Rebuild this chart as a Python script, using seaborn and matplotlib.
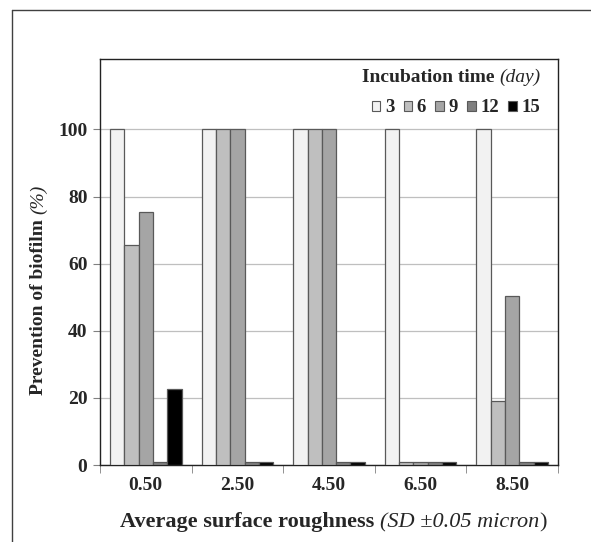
import pandas as pd
import matplotlib
matplotlib.use('Agg')
import matplotlib.pyplot as plt
import seaborn as sns
from matplotlib.patches import Patch
from matplotlib.lines import Line2D
from matplotlib.ticker import FixedLocator

# data
roughness = ['0.50', '2.50', '4.50', '6.50', '8.50']
days = ['3', '6', '9', '12', '15']
prev_3 = [100, 100, 100, 100, 100]
prev_6 = [65.5, 100, 100, 1, 19]
prev_9 = [75.3, 100, 100, 1, 50.5]
prev_12 = [1, 1, 1, 1, 1]
prev_15 = [22.7, 1, 1, 1, 1]
colors = ['#f2f2f2', '#bfbfbf', '#a5a5a5', '#7f7f7f', '#000000']

rows = []
for d, vals in zip(days, [prev_3, prev_6, prev_9, prev_12, prev_15]):
    for r, v in zip(roughness, vals):
        rows.append({'roughness': r, 'day': d, 'prevention': v})
df = pd.DataFrame(rows)

sns.set_style('white')
plt.rcParams['font.family'] = ['Liberation Serif', 'DejaVu Serif']

W, H = 591, 542
fig = plt.figure(figsize=(W / 100, H / 100), dpi=100)
ax = fig.add_axes([100 / W, 1 - 465 / H, 458 / W, 406 / H])

sns.barplot(data=df, x='roughness', y='prevention', hue='day', hue_order=days,
            order=roughness, palette=colors, width=0.78, edgecolor='#595959',
            linewidth=0.9, ax=ax, legend=False, zorder=3)

ax.set_ylim(0, 121)
ax.set_xlim(-0.5, 4.5)
ax.set_yticks([0, 20, 40, 60, 80, 100])
ax.yaxis.grid(True, color='#bfbfbf', linewidth=0.9, zorder=0)
ax.set_axisbelow(True)
for s in ax.spines.values():
    s.set_color('#222222')
    s.set_linewidth(1.0)

ax.xaxis.set_minor_locator(FixedLocator([-0.5, 0.5, 1.5, 2.5, 3.5, 4.5]))
ax.tick_params(axis='x', which='major', length=0, pad=9)
ax.tick_params(axis='x', which='minor', length=6, direction='out', color='#808080', bottom=True)
ax.tick_params(axis='y', length=5, direction='out', color='#808080', left=True, pad=4)
for lab in ax.get_xticklabels() + ax.get_yticklabels():
    lab.set_fontweight('bold')
    lab.set_fontsize(14)
ax.set_xlabel('')
ax.set_ylabel('')

fig.canvas.draw()
rend = fig.canvas.get_renderer()


def rich(x, y, parts, size, center=True):
    # draw text pieces one after another (pixel coords)
    objs = []
    total = 0
    for s, w, st in parts:
        t = fig.text(0, 0, s, fontsize=size, fontweight=w, fontstyle=st,
                     ha='left', va='baseline', transform=None)
        bb = t.get_window_extent(rend)
        objs.append((t, total))
        total += bb.width
    start = x - total / 2 if center else x - total
    for t, off in objs:
        t.set_position((start + off, H - y))
    return objs


# x label
rich(333, 527, [('Average surface roughness ', 'bold', 'normal'),
                ('(SD \u00b10.05 micron', 'normal', 'italic'),
                (')', 'normal', 'normal')], 16)

# y label (vertical, written bottom to top)
yparts = [('Prevention of biofilm ', 'bold', 'normal'), ('(%)', 'normal', 'italic')]
objs = []
total = 0
for s, w, st in yparts:
    t = fig.text(0, 0, s, fontsize=14, fontweight=w, fontstyle=st, rotation=90,
                 rotation_mode='anchor', ha='left', va='baseline', transform=None)
    bb = t.get_window_extent(rend)
    objs.append((t, total))
    total += bb.height
ystart = 290 + total / 2
for t, off in objs:
    t.set_position((43, H - ystart + off))

# legend title
rich(540, 82, [('Incubation time ', 'bold', 'normal'), ('(day)', 'normal', 'italic')], 14,
     center=False)

handles = [Patch(facecolor=c, edgecolor='#595959', linewidth=0.8) for c in colors]
fig.legend(handles, days, ncol=5, frameon=False, loc='center right',
           bbox_to_anchor=(544 / W, 1 - 108 / H), handlelength=0.45, handleheight=0.45,
           handletextpad=0.25, columnspacing=0.5, borderaxespad=0, borderpad=0.2,
           prop={'family': 'Liberation Serif', 'weight': 'bold', 'size': 13.5})

# outer frame lines
fig.add_artist(Line2D([12 / W, 12 / W], [0, 1 - 10 / H], color='#404040', linewidth=1.0))
fig.add_artist(Line2D([12 / W, 1], [1 - 10 / H, 1 - 10 / H], color='#404040', linewidth=1.0))

fig.savefig('out.png', dpi=100)
